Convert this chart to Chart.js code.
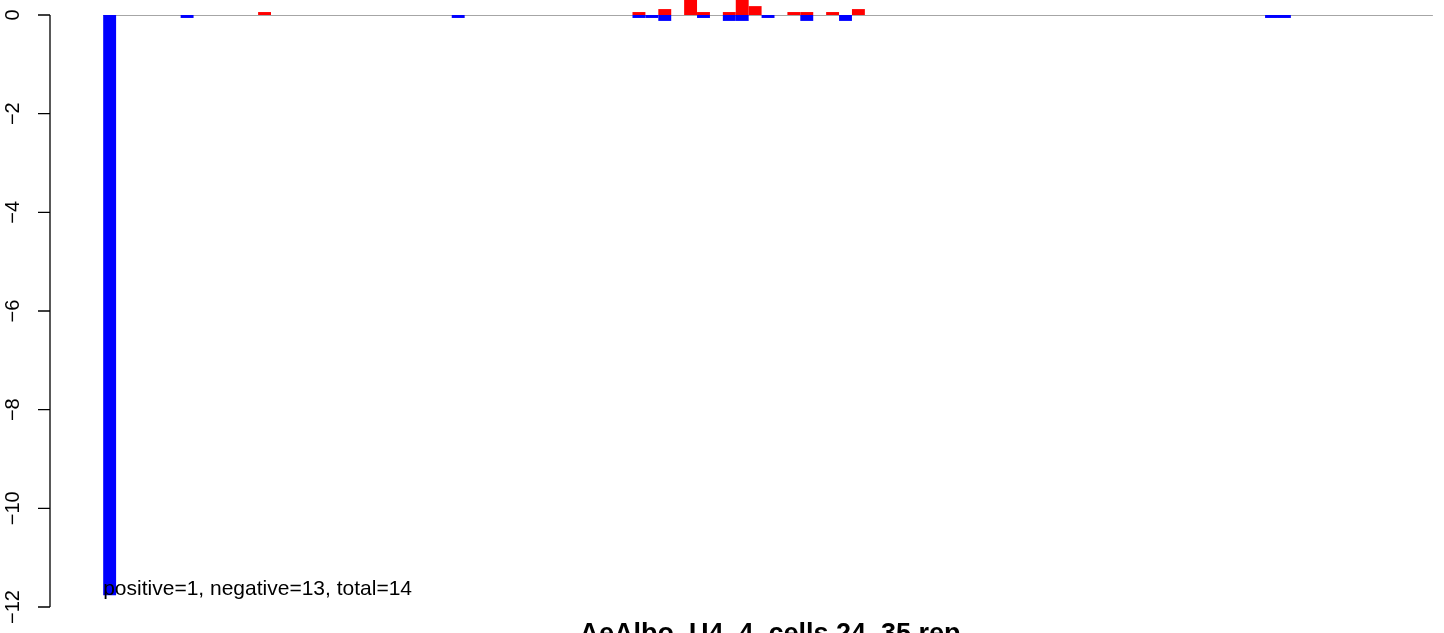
<!DOCTYPE html>
<html>
<head>
<meta charset="utf-8">
<script src="https://cdn.jsdelivr.net/npm/chart.js@4"></script>
<style>
  html, body { margin: 0; padding: 0; background: #fff; }
  #wrap { width: 1444px; height: 633px; position: relative; }
</style>
</head>
<body>
<div id="wrap"><canvas id="chart"></canvas></div>
<script>
// bins along the x axis (one bar slot each)
const binCount = 103;

// positive (red) bars: bin index -> value
const posBins   = [12, 41, 43, 45, 46, 48, 49, 50, 53, 54, 56, 58];
const posValues = [0.06, 0.06, 0.12, 0.5, 0.06, 0.06, 0.5, 0.18, 0.06, 0.06, 0.06, 0.12];

// negative (blue) bars: bin index -> value
const negBins   = [0, 6, 27, 41, 42, 43, 46, 48, 49, 51, 54, 57, 90, 91];
const negValues = [-11.76, -0.06, -0.06, -0.06, -0.06, -0.12, -0.06, -0.12, -0.12, -0.06, -0.12, -0.12, -0.06, -0.06];

const yTicks = [0, -2, -4, -6, -8, -10, -12];
const titleText = 'AeAlbo_U4_4_cells 24_35 rep';
const noteText  = 'positive=1, negative=13, total=14';

/* ── build full series (null where no bar) ──────────── */
function fullSeries(bins, values) {
  const out = [];
  for (let i = 0; i < binCount; i++) out.push({ x: i + 0.5, y: null });
  bins.forEach((b, k) => { out[b].y = values[k]; });
  return out;
}

/* ── R-style left axis, notes and title ─────────────── */
const rAxisPlugin = {
  id: 'rAxis',
  afterDraw(chart) {
    const { ctx, scales: { x, y } } = chart;
    const axX = chart.chartArea.left;
    ctx.save();
    ctx.strokeStyle = '#000';
    ctx.lineWidth = 1.3;
    ctx.beginPath();
    ctx.moveTo(axX, y.getPixelForValue(yTicks[0]));
    ctx.lineTo(axX, y.getPixelForValue(yTicks[yTicks.length - 1]));
    yTicks.forEach(t => {
      const py = y.getPixelForValue(t);
      ctx.moveTo(axX - 12, py);
      ctx.lineTo(axX, py);
    });
    ctx.stroke();

    ctx.fillStyle = '#000';
    ctx.font = '20px "Liberation Sans", Arial, sans-serif';
    ctx.textAlign = 'center';
    ctx.textBaseline = 'alphabetic';
    yTicks.forEach(t => {
      const py = y.getPixelForValue(t);
      ctx.save();
      ctx.translate(19, py);
      ctx.rotate(-Math.PI / 2);
      ctx.fillText(String(t).replace('-', '\u2212'), 0, 0);
      ctx.restore();
    });

    // summary note
    ctx.textAlign = 'left';
    ctx.font = '21px "Liberation Sans", Arial, sans-serif';
    ctx.fillText(noteText, x.getPixelForValue(0), 595);

    // title (bottom, partly outside the picture)
    ctx.textAlign = 'center';
    ctx.font = 'bold 27px "Liberation Sans", Arial, sans-serif';
    ctx.fillText(titleText, 770, 642);
    ctx.restore();
  }
};

/* ── chart ──────────────────────────────────────────── */
new Chart(document.getElementById('chart'), {
  type: 'bar',
  data: {
    datasets: [
      {
        type: 'line',
        data: [{ x: 0, y: 0 }, { x: binCount, y: 0 }],
        borderColor: '#a6a6a6',
        borderWidth: 2.2,
        pointRadius: 0,
        order: 3,
      },
      {
        label: 'positive',
        data: fullSeries(posBins, posValues),
        backgroundColor: '#ff0000',
        borderWidth: 0,
        inflateAmount: 0,
        barPercentage: 1,
        categoryPercentage: 1,
        grouped: false,
        clip: false,
        order: 1,
      },
      {
        label: 'negative',
        data: fullSeries(negBins, negValues),
        backgroundColor: '#0000ff',
        borderWidth: 0,
        inflateAmount: 0,
        barPercentage: 1,
        categoryPercentage: 1,
        grouped: false,
        clip: false,
        order: 1,
      },
    ],
  },
  options: {
    responsive: true,
    maintainAspectRatio: false,
    animation: false,
    layout: { padding: { left: 50, top: 15, bottom: 26, right: 0 } },
    plugins: { legend: { display: false }, tooltip: { enabled: false }, title: { display: false } },
    scales: {
      x: { type: 'linear', display: false, offset: false, min: -4.12, max: 103.86, ticks: { stepSize: 20 } },
      y: { type: 'linear', display: false, min: -12, max: 0 },
    },
  },
  plugins: [rAxisPlugin],
});
</script>
</body>
</html>
